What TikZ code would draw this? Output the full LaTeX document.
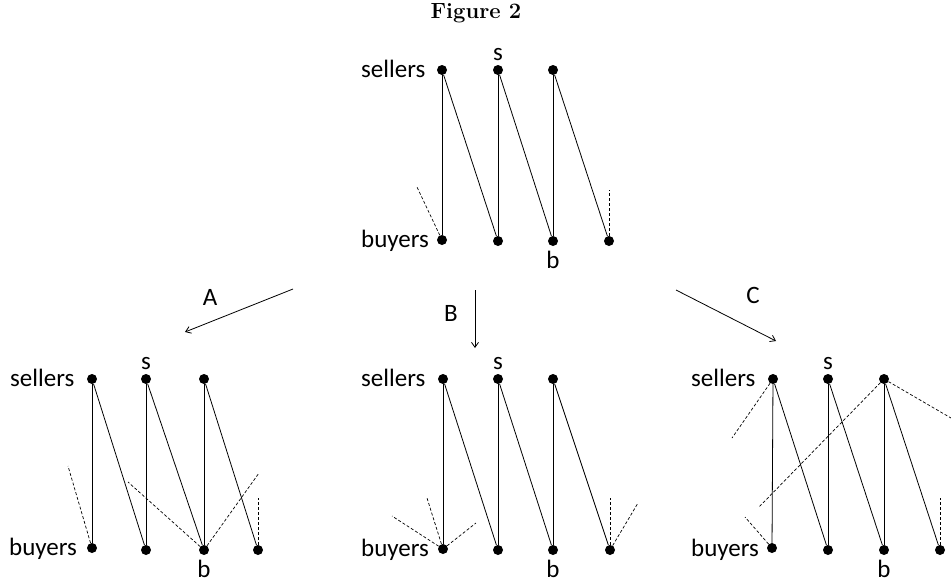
\documentclass[tikz,border=0pt]{standalone}
\usepackage{fontspec}
\setsansfont{Carlito}
\usetikzlibrary{arrows.meta}
\begin{document}
\begin{tikzpicture}[x=1pt,y=-1pt,
  dot/.style={circle,fill=black,inner sep=0pt,minimum size=10pt},
  lbl/.style={font=\sffamily\fontsize{25}{29}\selectfont,inner sep=0pt},
  edge/.style={line width=0.8pt},
  dashedge/.style={line width=0.7pt,dash pattern=on 3pt off 2pt},
  arr/.style={line width=0.8pt,-{Straight Barb[length=5pt,width=7pt]}}]
\useasboundingbox (0,0) rectangle (951,582);

\node[font=\bfseries\fontsize{22}{26}\selectfont,inner sep=0pt] (title) at (476,13) {Figure 2};

% ---------- top panel ----------
\node[dot] (T-s1) at (442,70) {};
\node[dot] (T-s2) at (498,70) {};
\node[dot] (T-s3) at (553,70) {};
\node[dot] (T-b1) at (442,240) {};
\node[dot] (T-b2) at (498,241) {};
\node[dot] (T-b3) at (553,241) {};
\node[dot] (T-b4) at (609,241) {};
\node[lbl,anchor=base west] (T-sl) at (361,77) {sellers};
\node[lbl,anchor=base west] (T-bl) at (361,247) {buyers};
\node[lbl,anchor=base] (T-s) at (498,60) {s};
\node[lbl,anchor=base] (T-b) at (553,268) {b};
\draw[edge] (T-s1) -- (T-b1);
\draw[edge] (T-s1) -- (T-b2);
\draw[edge] (T-s2) -- (T-b2);
\draw[edge] (T-s2) -- (T-b3);
\draw[edge] (T-s3) -- (T-b3);
\draw[edge] (T-s3) -- (T-b4);
\coordinate (T-d1) at (417,187);
\coordinate (T-d2) at (609,190);
\draw[dashedge] (T-b1) -- (T-d1);
\draw[dashedge] (T-b4) -- (T-d2);

% ---------- arrows ----------
\coordinate (A1) at (293,289); \coordinate (A2) at (185,332);
\coordinate (B1) at (475,290); \coordinate (B2) at (475,348);
\coordinate (C1) at (676,290); \coordinate (C2) at (776,341);
\draw[arr] (A1) -- (A2);
\draw[arr] (B1) -- (B2);
\draw[arr] (C1) -- (C2);
\node[lbl] (lA) at (210,297) {A};
\node[lbl] (lB) at (451,313) {B};
\node[lbl] (lC) at (753,295) {C};

% ---------- left panel ----------
\node[dot] (L-s1) at (92,379) {};
\node[dot] (L-s2) at (146,379) {};
\node[dot] (L-s3) at (204,379) {};
\node[dot] (L-b1) at (92,548) {};
\node[dot] (L-b2) at (146,550) {};
\node[dot] (L-b3) at (204,550) {};
\node[dot] (L-b4) at (258,550) {};
\node[lbl,anchor=base west] (L-sl) at (10,386) {sellers};
\node[lbl,anchor=base west] (L-bl) at (9,555) {buyers};
\node[lbl,anchor=base] (L-s) at (146,369) {s};
\node[lbl,anchor=base] (L-b) at (204,577) {b};
\draw[edge] (L-s1) -- (L-b1);
\draw[edge] (L-s1) -- (L-b2);
\draw[edge] (L-s2) -- (L-b2);
\draw[edge] (L-s2) -- (L-b3);
\draw[edge] (L-s3) -- (L-b3);
\draw[edge] (L-s3) -- (L-b4);
\coordinate (L-d1) at (68,466);
\coordinate (L-d2) at (128,482);
\coordinate (L-d3) at (259,473);
\coordinate (L-d4) at (258,498);
\draw[dashedge] (L-b1) -- (L-d1);
\draw[dashedge] (L-b3) -- (L-d2);
\draw[dashedge] (L-b3) -- (L-d3);
\draw[dashedge] (L-b4) -- (L-d4);

% ---------- middle panel ----------
\node[dot] (M-s1) at (443,379) {};
\node[dot] (M-s2) at (498,379) {};
\node[dot] (M-s3) at (553,379) {};
\node[dot] (M-b1) at (443,549) {};
\node[dot] (M-b2) at (498,550) {};
\node[dot] (M-b3) at (553,550) {};
\node[dot] (M-b4) at (610,550) {};
\node[lbl,anchor=base west] (M-sl) at (361,386) {sellers};
\node[lbl,anchor=base west] (M-bl) at (361,556) {buyers};
\node[lbl,anchor=base] (M-s) at (498,369) {s};
\node[lbl,anchor=base] (M-b) at (553,577) {b};
\draw[edge] (M-s1) -- (M-b1);
\draw[edge] (M-s1) -- (M-b2);
\draw[edge] (M-s2) -- (M-b2);
\draw[edge] (M-s2) -- (M-b3);
\draw[edge] (M-s3) -- (M-b3);
\draw[edge] (M-s3) -- (M-b4);
\coordinate (M-d1) at (427,498);
\coordinate (M-d2) at (392,516);
\coordinate (M-d3) at (476,523);
\coordinate (M-d4) at (610,498);
\coordinate (M-d5) at (638,503);
\draw[dashedge] (M-b1) -- (M-d1);
\draw[dashedge] (M-b1) -- (M-d2);
\draw[dashedge] (M-b1) -- (M-d3);
\draw[dashedge] (M-b4) -- (M-d4);
\draw[dashedge] (M-b4) -- (M-d5);

% ---------- right panel ----------
\node[dot] (R-s1) at (773,379) {};
\node[dot] (R-s2) at (828,379) {};
\node[dot] (R-s3) at (884,379) {};
\node[dot] (R-b1) at (772,548) {};
\node[dot] (R-b2) at (828,550) {};
\node[dot] (R-b3) at (884,550) {};
\node[dot] (R-b4) at (940,550) {};
\node[lbl,anchor=base west] (R-sl) at (691,386) {sellers};
\node[lbl,anchor=base west] (R-bl) at (691,556) {buyers};
\node[lbl,anchor=base] (R-s) at (828,369) {s};
\node[lbl,anchor=base] (R-b) at (884,577) {b};
\draw[edge] (R-s1) -- (R-b1);
\draw[edge] (R-s1) -- (R-b2);
\draw[edge] (R-s2) -- (R-b2);
\draw[edge] (R-s2) -- (R-b3);
\draw[edge] (R-s3) -- (R-b3);
\draw[edge] (R-s3) -- (R-b4);
\coordinate (R-d1) at (732,438);
\coordinate (R-d2) at (759,507);
\coordinate (R-d3) at (951,418);
\coordinate (R-d4) at (745,517);
\coordinate (R-d5) at (940,498);
\draw[dashedge] (R-s1) -- (R-d1);
\draw[dashedge] (R-s3) -- (R-d2);
\draw[dashedge] (R-s3) -- (R-d3);
\draw[dashedge] (R-b1) -- (R-d4);
\draw[dashedge] (R-b4) -- (R-d5);
\end{tikzpicture}
\end{document}
